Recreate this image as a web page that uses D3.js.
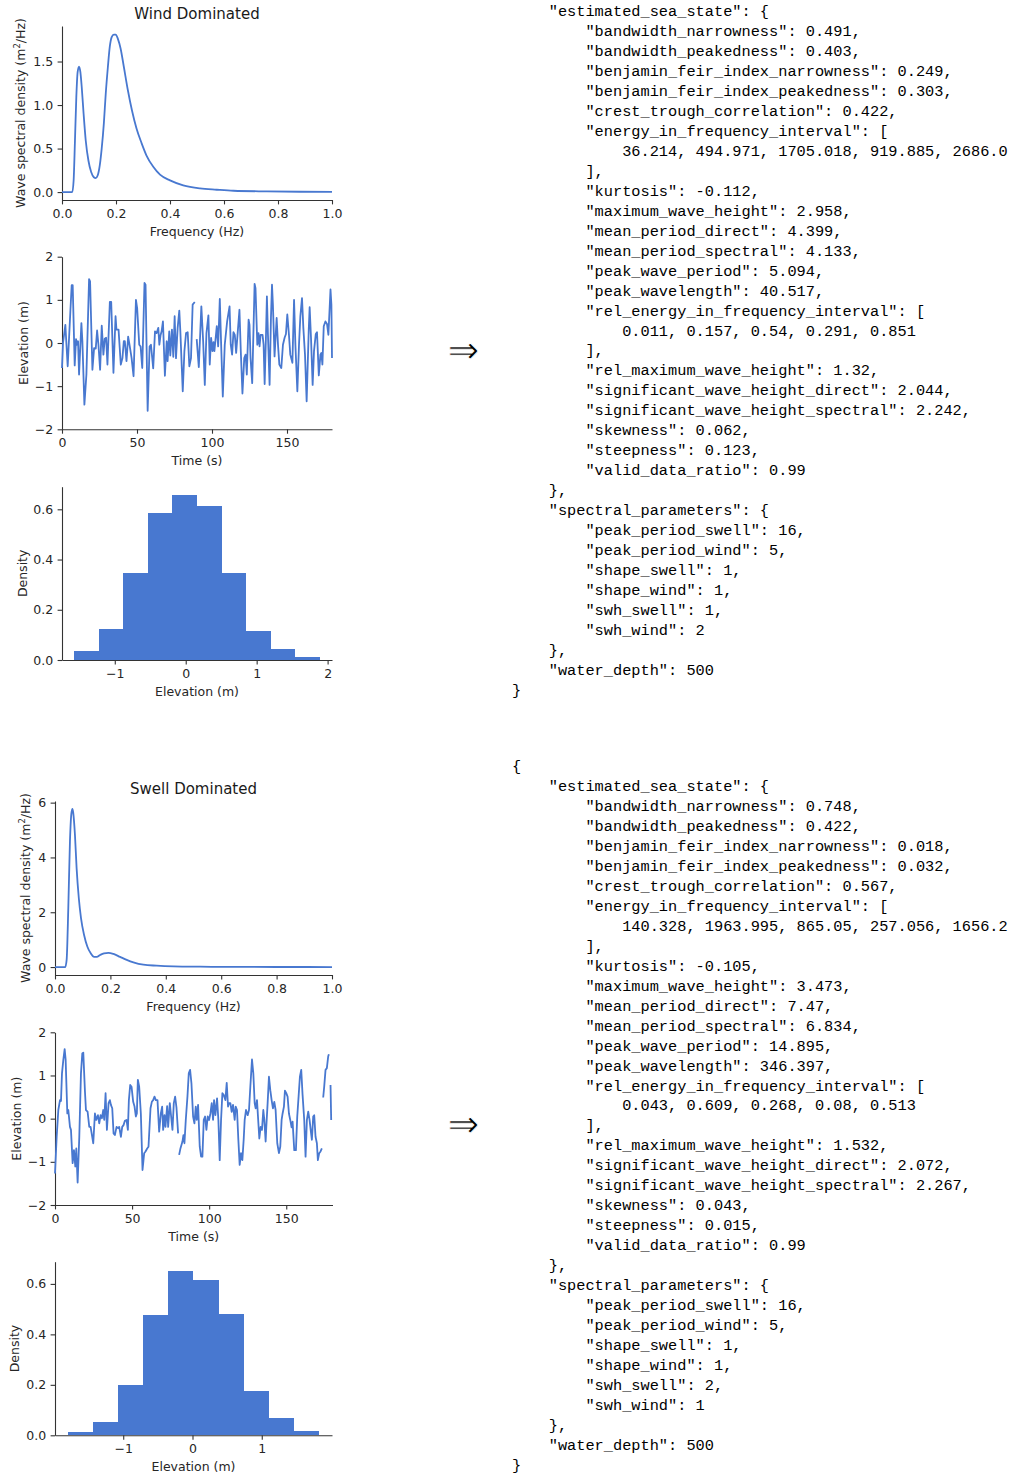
<!DOCTYPE html>
<html>
<head>
<meta charset="utf-8">
<script src="https://cdn.jsdelivr.net/npm/d3@7"></script>
<style>
  html, body { margin: 0; padding: 0; background: #fff; }
  svg { display: block; }
  .mono { white-space: pre; }
</style>
</head>
<body>
<script>
// ---------------- DATA ----------------
// Wind dominated spectrum (frequency Hz, PSD m^2/Hz)
const windFreq = [0, 0.038, 0.043, 0.048, 0.053, 0.058, 0.063, 0.068, 0.073, 0.080, 0.088, 0.098, 0.108, 0.118, 0.125, 0.132, 0.140, 0.147, 0.155, 0.162, 0.170, 0.177, 0.184, 0.192, 0.199, 0.207, 0.217, 0.229, 0.244, 0.259, 0.276, 0.295, 0.313, 0.338, 0.363, 0.40, 0.449, 0.511, 0.573, 0.635, 0.759, 0.882, 1.0];
const windPsd  = [0, 0, 0.13, 0.59, 1.09, 1.38, 1.44, 1.38, 1.21, 0.90, 0.59, 0.36, 0.23, 0.17, 0.16, 0.19, 0.31, 0.50, 0.79, 1.13, 1.44, 1.67, 1.78, 1.81, 1.81, 1.76, 1.65, 1.44, 1.17, 0.94, 0.73, 0.56, 0.42, 0.29, 0.20, 0.134, 0.077, 0.042, 0.027, 0.015, 0.008, 0.004, 0.002];

// Swell dominated spectrum
const swellFreq = [0, 0.037, 0.042, 0.048, 0.054, 0.059, 0.063, 0.066, 0.072, 0.078, 0.086, 0.094, 0.105, 0.117, 0.129, 0.141, 0.151, 0.163, 0.177, 0.193, 0.211, 0.235, 0.259, 0.283, 0.319, 0.367, 0.428, 0.524, 0.645, 0.825, 1.0];
const swellPsd  = [0, 0, 0.26, 2.15, 4.59, 5.59, 5.77, 5.62, 4.83, 3.61, 2.51, 1.78, 1.17, 0.74, 0.50, 0.37, 0.37, 0.44, 0.50, 0.52, 0.48, 0.37, 0.26, 0.17, 0.085, 0.05, 0.025, 0.012, 0.005, 0.002, 0.001];

// Wind dominated elevation time series (s, m); null = missing sample
const windTime = [0,0.67,2.23,3.79,5.57,6.46,7.13,8.47,9.36,10.03,
  10.70,11.37,12.93,13.59,14.93,16.27,18.05,18.72,20.28,21.4,
  22.5,23.4,24.3,25.4,26.5,27.6,28.5,29.4,30.3,31.9,
  32.8,34.3,35.7,36.3,37.7,39.2,40.3,41.2,41.9,43.0,
  44.1,45.0,46.4,47.7,49.3,50.1,51.5,52.4,53.5,55.0,
  55.7,57.1,58.4,59.3,60.8,62.0,63.1,64.2,64.9,65.7,
  66.4,67.3,68.6,69.8,70.4,71.5,72.2,73.3,74.2,75.1,
  76.0,77.1,78.2,78.9,80.5,81.6,82.7,83.8,84.9,86.0,
  87.1,88.5,89.2,89.8,91.2,92.9,94.1,95.2,96.3,97.6,
  98.5,99.4,100.3,101.0,101.6,103.2,104.1,105.2,106.1,107.2,
  108.5,110.1,111.7,112.5,113.4,114.3,115.2,116.1,117.2,118.3,
  119.2,120.3,121.5,122.4,123.2,124.4,125.0,125.7,126.8,128.4,
  129.0,130.2,131.0,131.7,132.4,133.7,134.4,135.1,136.0,136.6,
  137.3,138.4,139.3,140.0,140.6,141.7,143.1,144.0,144.9,146.2,
  147.3,148.4,149.3,150.2,151.3,152.2,153.6,154.7,155.6,156.9,
  158.0,158.9,160.0,160.9,162.0,163.1,164.5,165.1,166.0,167.1,
  168.0,169.2,170.0,171.2,172.3,172.9,173.6,174.5,175.6,176.7,
  177.6,179.0,179.6,180];
const windElev = [-0.58,0,0.42,-0.54,0.73,1.34,1.34,-0.52,0.09,-0.04,
  0.04,-0.73,0.46,0.04,-1.43,-0.73,1.48,1.43,-0.62,-0.12,
  -0.13,0.29,-0.04,-0.62,0.40,-0.27,0.10,0.12,-0.50,0.95,
  0.95,-0.69,0.62,0.31,0.31,-0.50,-0.35,0.04,0.04,-0.42,
  0.15,-0.04,-0.35,-0.77,1.0,0.81,-0.04,-0.08,-0.58,1.39,
  1.35,-1.57,-0.08,-0.04,-0.59,0.27,0.23,0.35,-0.04,0.18,
  0.27,0.50,-0.76,0.04,-0.42,0.27,-0.29,0.31,-0.32,0.62,
  -0.35,0.35,0.75,0.27,-1.12,-0.19,0.23,0.25,-0.54,-0.35,
  0.89,0.95,null,0.09,-0.56,0.85,0.04,-0.97,0.23,0.64,
  -0.50,0.12,-0.19,0.02,-0.19,0.39,-0.08,1.02,-0.04,-1.24,
  -0.04,0.50,0.85,-0.04,-0.27,0.25,0.19,-0.23,0.27,0.77,
  -0.19,-1.17,-0.35,-0.27,-0.73,0.54,0.42,-0.35,-0.93,1.37,
  1.27,-0.04,0.23,-0.08,0.19,0.19,-0.04,-0.95,0.19,1.08,
  0.19,-0.97,0.58,1.35,0.89,-0.31,0.58,-0.04,-0.50,-0.58,
  -0.04,0.12,0.21,0.66,0.19,-0.27,-0.46,1.0,-0.04,-1.12,
  -0.04,0.62,1.04,0.35,-0.27,-1.35,0.31,0.83,0.12,-0.97,
  -0.19,0.21,0.25,-0.75,-0.27,-0.23,-0.50,0.39,0.50,0.44,
  0.19,1.24,0.89,-0.35];

// Swell dominated elevation time series
const swellTime = [0,1.08,2.16,3.24,3.89,4.53,5.40,6.26,6.91,7.99,
  8.63,9.71,10.36,11.44,12.30,13.17,13.81,14.68,15.76,16.84,
  17.70,18.35,19.43,20.07,21.15,22.23,23.09,23.96,24.82,25.90,
  26.76,27.84,28.71,29.57,30.43,31.30,31.94,32.81,33.67,34.75,
  35.61,36.26,37.13,37.99,38.85,39.93,41.01,41.66,42.74,43.60,
  44.46,45.33,46.41,47.27,47.92,48.78,49.64,50.72,51.59,52.45,
  53.10,53.74,54.61,55.69,56.77,57.85,58.71,59.79,60.65,61.95,
  62.81,63.67,64.54,65.40,66.48,67.56,68.64,69.50,70.15,71.01,
  71.66,72.74,73.39,74.47,75.33,76.19,77.06,77.92,78.78,79.86,
  80.2,
  80.51,81.37,82.67,83.31,83.96,84.83,85.91,86.77,87.63,88.50,
  89.58,90.44,91.30,91.95,92.81,93.89,94.76,95.62,96.48,97.35,
  98.21,99.07,99.94,100.80,101.66,102.53,103.17,104.04,105.12,105.98,
  106.84,107.71,108.57,109.43,110.51,111.38,112.24,112.89,113.75,114.61,
  115.47,116.55,117.20,118.06,118.93,119.79,120.66,121.52,122.38,123.03,
  123.89,124.97,125.84,126.70,127.78,128.64,129.51,130.15,131.02,131.66,
  132.53,133.39,134.25,135.12,135.77,136.63,137.06,137.92,138.78,139.65,
  140.51,141.38,142.24,143.10,144.18,145.26,146.12,146.99,147.64,148.50,
  149.15,150.01,150.87,151.74,152.60,153.46,154.11,155.19,156.27,157.13,
  158.00,158.86,159.72,160.59,161.67,162.53,163.39,164.26,165.12,165.98,
  166.63,167.49,168.14,169.00,169.87,170.51,171.37,172.24,173.10,
  173.5,
  173.97,174.62,175.48,176.34,177.20,177.64,
  178.2,
  178.72,179.15];
const swellElev = [-1.27,-0.42,0.20,0.43,0.41,1.05,1.36,1.61,1.36,0.12,
  0.20,-0.19,-0.26,-1.03,-0.73,-1.11,-0.69,-1.48,-0.42,1.05,
  1.51,1.53,0.63,0.20,0.16,-0.19,-0.19,-0.38,-0.57,0.12,
  -0.03,0.08,-0.11,0.08,0.01,0.20,-0.03,0.59,-0.26,0.36,
  0.43,0.32,0.24,-0.34,-0.38,-0.19,-0.22,-0.19,-0.42,-0.19,
  -0.15,-0.05,-0.03,-0.26,0.43,0.78,0.74,0.39,0.28,0.05,
  0.12,0.90,0.74,0.12,-1.19,-0.80,-0.76,-0.69,-0.65,0.24,
  0.39,0.43,0.51,0.43,0.43,-0.30,0.12,0.28,-0.26,0.08,
  -0.19,0.29,-0.19,0.36,0.05,-0.26,0.36,0.51,0.26,-0.34,
  null,
  -0.84,-0.69,-0.53,-0.38,-0.57,-0.03,0.51,1.05,1.13,0.82,
  0.05,-0.11,0.28,-0.03,0.32,-0.65,-0.88,-0.88,-0.03,0.05,
  -0.26,0.05,-0.03,0.12,0.36,-0.03,0.43,0.08,0.47,-0.03,
  -0.96,-0.03,0.59,0.55,0.43,0.83,0.28,0.36,0.36,0.16,
  0.32,-0.03,0.28,0.20,-0.49,-1.07,-0.80,-0.96,-0.49,-0.03,
  0.20,0.08,0.20,0.74,1.37,1.05,0.36,0.24,0.43,0.05,
  -0.46,-0.19,-0.26,0.20,-0.03,-0.53,-0.19,0.36,0.97,0.66,
  0.43,0.24,0.39,0.20,-0.57,-0.80,-0.65,-0.03,0.12,0.28,
  0.65,0.59,0.51,0.12,-0.03,-0.20,-0.07,-0.73,-0.73,0.05,
  0.51,0.97,1.13,0.55,-0.03,-0.88,-0.03,0.16,-0.03,-0.30,
  -0.49,0.05,0.08,-0.42,-0.57,-0.96,-0.80,-0.76,-0.69,
  null,
  0.49,0.74,1.13,1.17,1.44,1.49,
  null,
  0.78,-0.03];

// Histograms (bin edges in m, density)
const windHistEdges   = [-1.571, -1.225, -0.879, -0.533, -0.187, 0.159, 0.505, 0.851, 1.197, 1.543, 1.889];
const windHistDensity = [0.036, 0.124, 0.347, 0.587, 0.655, 0.615, 0.347, 0.116, 0.044, 0.012];
const swellHistEdges   = [-1.803, -1.440, -1.076, -0.713, -0.349, 0.014, 0.378, 0.741, 1.105, 1.468, 1.832];
const swellHistDensity = [0.013, 0.054, 0.200, 0.477, 0.652, 0.616, 0.481, 0.176, 0.069, 0.017];

// Tick values
const freqTicks = [0, 0.2, 0.4, 0.6, 0.8, 1.0];
const windPsdTicks = [0, 0.5, 1.0, 1.5];
const swellPsdTicks = [0, 2, 4, 6];
const timeTicks = [0, 50, 100, 150];
const elevTicks = [-2, -1, 0, 1, 2];
const densityTicks = [0, 0.2, 0.4, 0.6];
const windHistXTicks = [-1, 0, 1, 2];
const swellHistXTicks = [-1, 0, 1];

// Titles
const titles = ["Wind Dominated", "Swell Dominated"];

// JSON text blocks (the wind block's opening brace lies above the visible page)
const windJson = [
'    "estimated_sea_state": {',
'        "bandwidth_narrowness": 0.491,',
'        "bandwidth_peakedness": 0.403,',
'        "benjamin_feir_index_narrowness": 0.249,',
'        "benjamin_feir_index_peakedness": 0.303,',
'        "crest_trough_correlation": 0.422,',
'        "energy_in_frequency_interval": [',
'            36.214, 494.971, 1705.018, 919.885, 2686.0',
'        ],',
'        "kurtosis": -0.112,',
'        "maximum_wave_height": 2.958,',
'        "mean_period_direct": 4.399,',
'        "mean_period_spectral": 4.133,',
'        "peak_wave_period": 5.094,',
'        "peak_wavelength": 40.517,',
'        "rel_energy_in_frequency_interval": [',
'            0.011, 0.157, 0.54, 0.291, 0.851',
'        ],',
'        "rel_maximum_wave_height": 1.32,',
'        "significant_wave_height_direct": 2.044,',
'        "significant_wave_height_spectral": 2.242,',
'        "skewness": 0.062,',
'        "steepness": 0.123,',
'        "valid_data_ratio": 0.99',
'    },',
'    "spectral_parameters": {',
'        "peak_period_swell": 16,',
'        "peak_period_wind": 5,',
'        "shape_swell": 1,',
'        "shape_wind": 1,',
'        "swh_swell": 1,',
'        "swh_wind": 2',
'    },',
'    "water_depth": 500',
'}'];
const swellJson = [
'{',
'    "estimated_sea_state": {',
'        "bandwidth_narrowness": 0.748,',
'        "bandwidth_peakedness": 0.422,',
'        "benjamin_feir_index_narrowness": 0.018,',
'        "benjamin_feir_index_peakedness": 0.032,',
'        "crest_trough_correlation": 0.567,',
'        "energy_in_frequency_interval": [',
'            140.328, 1963.995, 865.05, 257.056, 1656.2',
'        ],',
'        "kurtosis": -0.105,',
'        "maximum_wave_height": 3.473,',
'        "mean_period_direct": 7.47,',
'        "mean_period_spectral": 6.834,',
'        "peak_wave_period": 14.895,',
'        "peak_wavelength": 346.397,',
'        "rel_energy_in_frequency_interval": [',
'            0.043, 0.609, 0.268, 0.08, 0.513',
'        ],',
'        "rel_maximum_wave_height": 1.532,',
'        "significant_wave_height_direct": 2.072,',
'        "significant_wave_height_spectral": 2.267,',
'        "skewness": 0.043,',
'        "steepness": 0.015,',
'        "valid_data_ratio": 0.99',
'    },',
'    "spectral_parameters": {',
'        "peak_period_swell": 16,',
'        "peak_period_wind": 5,',
'        "shape_swell": 1,',
'        "shape_wind": 1,',
'        "swh_swell": 2,',
'        "swh_wind": 1',
'    },',
'    "water_depth": 500',
'}'];

// ---------------- DRAWING ----------------
const W = 1015, H = 1473;
const BLUE = "#4878d0";
const INK = "#262626";
const FONT = "'DejaVu Sans', sans-serif";
const svg = d3.select("body").append("svg").attr("width", W).attr("height", H)
  .attr("viewBox", `0 0 ${W} ${H}`);
svg.append("rect").attr("width", W).attr("height", H).attr("fill", "#fff");

function panel(cfg) {
  const x = d3.scaleLinear().domain(cfg.xd).range([cfg.l, cfg.r]);
  const y = d3.scaleLinear().domain(cfg.yd).range([cfg.b, cfg.t]);
  const g = svg.append("g");
  const tick = 4.4, pad = 4.4;
  const gx = g.append("g").attr("transform", `translate(0,${cfg.b})`)
    .call(d3.axisBottom(x).tickValues(cfg.xt).tickFormat(d3.format(cfg.xf)).tickSize(tick).tickPadding(pad).tickSizeOuter(0));
  const gy = g.append("g").attr("transform", `translate(${cfg.l},0)`)
    .call(d3.axisLeft(y).tickValues(cfg.yt).tickFormat(d3.format(cfg.yf)).tickSize(tick).tickPadding(pad).tickSizeOuter(0));
  [gx, gy].forEach(a => {
    a.select(".domain").attr("stroke", "#333").attr("stroke-width", 1.1);
    a.selectAll(".tick line").attr("stroke", "#333").attr("stroke-width", 1.1);
    a.selectAll(".tick text").attr("fill", INK).style("font-family", FONT).style("font-size", "12.5px");
  });
  g.append("text").attr("x", (cfg.l + cfg.r) / 2).attr("y", cfg.b + 35.5)
    .attr("text-anchor", "middle").attr("fill", INK)
    .style("font-family", FONT).style("font-size", "12.5px").text(cfg.xlabel);
  const yl = g.append("text")
    .attr("transform", `translate(${cfg.ylx + 4.5},${(cfg.t + cfg.b) / 2}) rotate(-90)`)
    .attr("text-anchor", "middle").attr("fill", INK)
    .style("font-family", FONT).style("font-size", "12.5px");
  if (cfg.super) {
    yl.append("tspan").text(cfg.ylabel[0]);
    yl.append("tspan").attr("dy", -5).style("font-size", "8.5px").text(cfg.ylabel[1]);
    yl.append("tspan").attr("dy", 5).text(cfg.ylabel[2]);
  } else {
    yl.text(cfg.ylabel);
  }
  if (cfg.title) {
    g.append("text").attr("x", (cfg.l + cfg.r) / 2).attr("y", cfg.t - 7)
      .attr("text-anchor", "middle").attr("fill", "#1a1a1a")
      .style("font-family", FONT).style("font-size", "15px").text(cfg.title);
  }
  return { x, y, g };
}

function drawLine(p, xs, ys, curve) {
  const pts = xs.map((v, i) => [v, ys[i]]);
  const line = d3.line().defined(d => d[1] !== null)
    .x(d => p.x(d[0])).y(d => p.y(d[1])).curve(curve);
  p.g.append("path").datum(pts).attr("d", line).attr("fill", "none")
    .attr("stroke", BLUE).attr("stroke-width", 1.8).attr("stroke-linejoin", "round");
}

function drawHist(p, edges, dens) {
  const bins = dens.map((d, i) => ({ x0: edges[i], x1: edges[i + 1], d }));
  p.g.insert("g", ":first-child").selectAll("rect").data(bins).join("rect")
    .attr("x", b => p.x(b.x0)).attr("width", b => p.x(b.x1) - p.x(b.x0))
    .attr("y", b => p.y(b.d)).attr("height", b => p.y(0) - p.y(b.d))
    .attr("fill", BLUE).attr("shape-rendering", "crispEdges");
}

const psdLabel = ["Wave spectral density (m", "2", "/Hz)"];

// Wind column
const p1 = panel({ l: 62, r: 332, t: 26, b: 200, xd: [0, 1], yd: [-0.091, 1.908], xt: freqTicks, yt: windPsdTicks,
  xf: ".1f", yf: ".1f", xlabel: "Frequency (Hz)", ylabel: psdLabel, super: true, ylx: 20, title: titles[0] });
drawLine(p1, windFreq, windPsd, d3.curveMonotoneX);

const p2 = panel({ l: 62, r: 332, t: 256.7, b: 429.3, xd: [0, 180], yd: [-2, 2], xt: timeTicks, yt: elevTicks,
  xf: "d", yf: "d", xlabel: "Time (s)", ylabel: "Elevation (m)", ylx: 23 });
drawLine(p2, windTime, windElev, d3.curveLinear);

const p3 = panel({ l: 62, r: 332, t: 486.7, b: 660, xd: [-1.744, 2.062], yd: [0, 0.69], xt: windHistXTicks, yt: densityTicks,
  xf: "d", yf: ".1f", xlabel: "Elevation (m)", ylabel: "Density", ylx: 22 });
drawHist(p3, windHistEdges, windHistDensity);

// Swell column
const p4 = panel({ l: 55, r: 332, t: 801, b: 975, xd: [0, 1], yd: [-0.29, 6.06], xt: freqTicks, yt: swellPsdTicks,
  xf: ".1f", yf: "d", xlabel: "Frequency (Hz)", ylabel: psdLabel, super: true, ylx: 25, title: titles[1] });
drawLine(p4, swellFreq, swellPsd, d3.curveMonotoneX);

const p5 = panel({ l: 55, r: 332.5, t: 1032.3, b: 1205, xd: [0, 180], yd: [-2, 2], xt: timeTicks, yt: elevTicks,
  xf: "d", yf: "d", xlabel: "Time (s)", ylabel: "Elevation (m)", ylx: 16 });
drawLine(p5, swellTime, swellElev, d3.curveLinear);

const p6 = panel({ l: 55, r: 332, t: 1261.7, b: 1435.3, xd: [-1.985, 2.014], yd: [0, 0.688], xt: swellHistXTicks, yt: densityTicks,
  xf: "d", yf: ".1f", xlabel: "Elevation (m)", ylabel: "Density", ylx: 14 });
drawHist(p6, swellHistEdges, swellHistDensity);

// Arrows (thin double arrow)
[352, 1126].forEach(cy => {
  svg.append("text").attr("x", 463.5).attr("y", cy + 11).attr("text-anchor", "middle")
    .attr("fill", "#000").attr("stroke", "#fff").attr("stroke-width", 0.9)
    .style("font-family", "'DejaVu Sans', sans-serif").style("font-size", "38px")
    .text("\u21D2");
});

// JSON blocks
function jsonBlock(lines, firstBaseline) {
  const g = svg.append("g");
  g.selectAll("text").data(lines).join("text")
    .attr("class", "mono")
    .attr("x", 512).attr("y", (d, i) => firstBaseline + i * 19.97)
    .attr("fill", "#000")
    .style("font-family", "'Liberation Mono', monospace").style("font-size", "15.3px")
    .text(d => d);
}
jsonBlock(windJson, 16);
jsonBlock(swellJson, 771);
</script>
</body>
</html>
